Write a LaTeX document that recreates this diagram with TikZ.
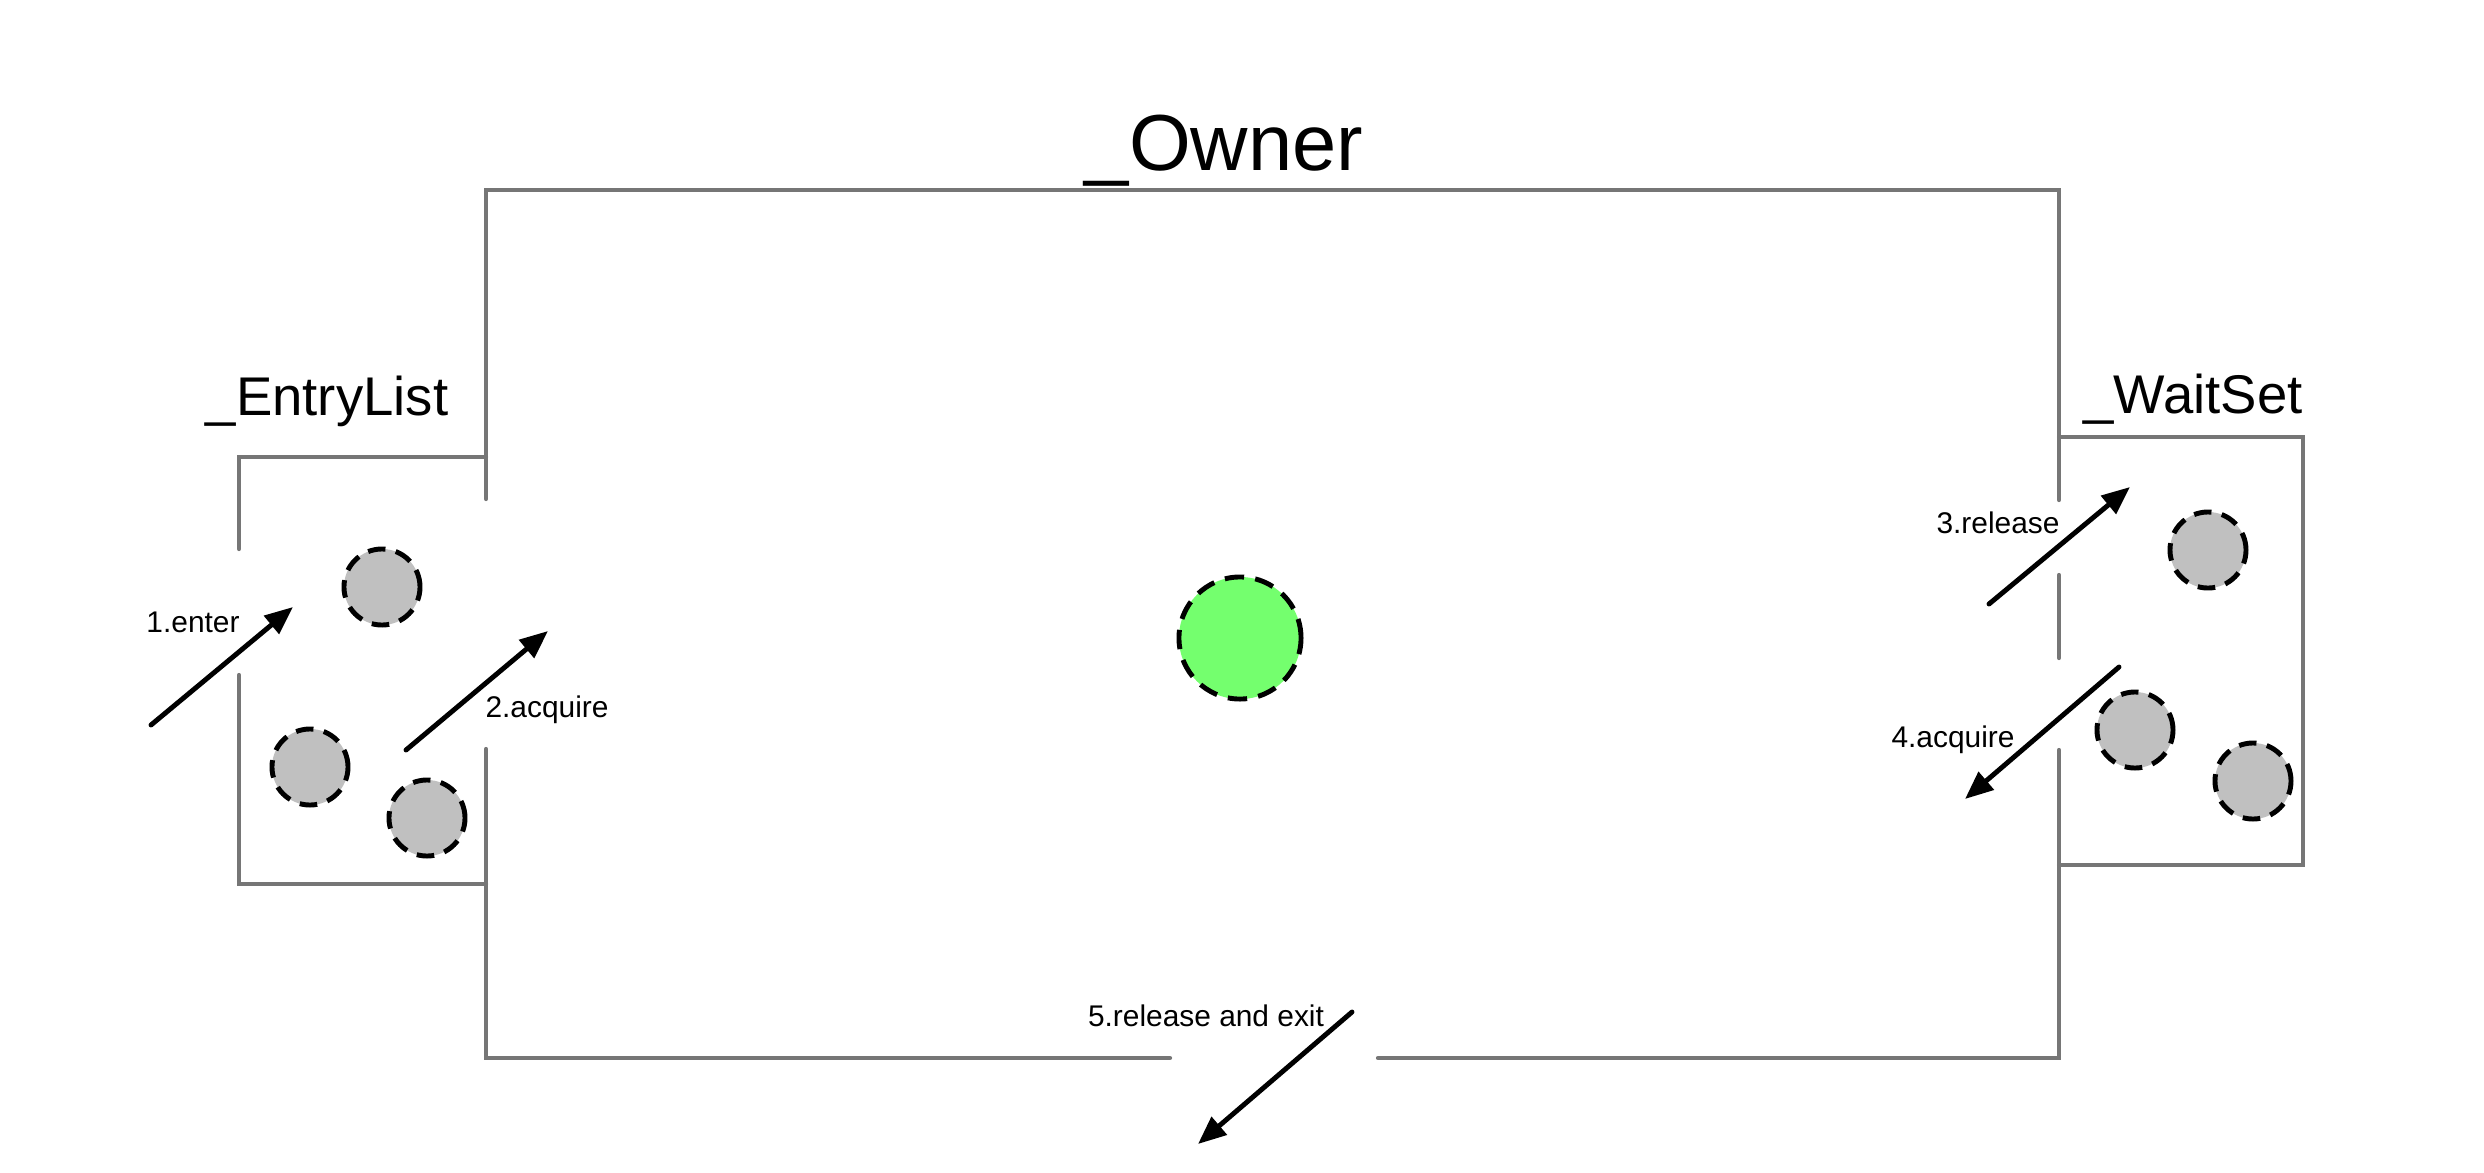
\documentclass[tikz,border=0pt]{standalone}
\usepackage{fontspec}
\setmainfont{Liberation Sans}
\usetikzlibrary{arrows.meta}
\definecolor{wallgray}{HTML}{767676}
\definecolor{thrgray}{HTML}{C0C0C0}
\definecolor{ownergreen}{HTML}{74FF6E}
\tikzset{
  wall/.style={draw=wallgray, line width=1.2pt, line cap=round},
  thread/.style={circle, minimum size=0.76cm, inner sep=0pt, fill=thrgray, draw=black, line width=1.4pt, dash pattern=on 5pt off 3pt},
  owner/.style={circle, minimum size=1.22cm, inner sep=0pt, fill=ownergreen, draw=black, line width=1.4pt, dash pattern=on 5.5pt off 3.2pt},
  flow/.style={draw=black, line width=1.4pt, line cap=round, -{Triangle[length=8pt,width=6.5pt]}},
  small/.style={font=\fontsize{8.5}{10}\selectfont, anchor=base, inner sep=0pt},
  big/.style={font=\fontsize{15.5}{18}\selectfont, anchor=base, inner sep=0pt},
  huge/.style={font=\fontsize{22.6}{26}\selectfont, anchor=base, inner sep=0pt}
}
\begin{document}
\begin{tikzpicture}[x=0.01cm, y=-0.01cm]
\useasboundingbox (0,0) rectangle (2484,1172);
% main box (_Owner)
\draw[wall] (486,499) -- (486,190) -- (2059,190) -- (2059,500);
\draw[wall] (2059,575) -- (2059,658);
\draw[wall] (2059,750) -- (2059,1058) -- (1378,1058);
\draw[wall] (1170,1058) -- (486,1058) -- (486,749);
% _EntryList box
\draw[wall] (239,549) -- (239,457) -- (486,457);
\draw[wall] (239,675) -- (239,884) -- (486,884);
% _WaitSet box
\draw[wall] (2059,437) -- (2303,437) -- (2303,865) -- (2059,865);
% titles
\node[huge] (towner) at (1224,170) {\_Owner};
\node[big] (tentry) at (327,415) {\_EntryList};
\node[big] (twait) at (2193,413) {\_WaitSet};
% threads
\node[thread] (e1) at (382,587) {};
\node[thread] (e2) at (310,767) {};
\node[thread] (e3) at (427,818) {};
\node[thread] (w1) at (2208,550) {};
\node[thread] (w2) at (2135,730) {};
\node[thread] (w3) at (2253,781) {};
\node[owner] (own) at (1240,638) {};
% arrows
\coordinate (a1s) at (151,725); \coordinate (a1e) at (293,607);
\coordinate (a2s) at (406,750); \coordinate (a2e) at (548,631);
\coordinate (a3s) at (1989,604); \coordinate (a3e) at (2130,487);
\coordinate (a4s) at (2119,667); \coordinate (a4e) at (1965,799);
\coordinate (a5s) at (1352,1012); \coordinate (a5e) at (1198,1144);
\draw[flow] (a1s) -- (a1e);
\draw[flow] (a2s) -- (a2e);
\draw[flow] (a3s) -- (a3e);
\draw[flow] (a4s) -- (a4e);
\draw[flow] (a5s) -- (a5e);
% labels
\node[small] (l1) at (193,632) {1.enter};
\node[small] (l2) at (547,717) {2.acquire};
\node[small] (l3) at (1998,533) {3.release};
\node[small] (l4) at (1953,747) {4.acquire};
\node[small] (l5) at (1206,1026) {5.release and exit};
\end{tikzpicture}
\end{document}
